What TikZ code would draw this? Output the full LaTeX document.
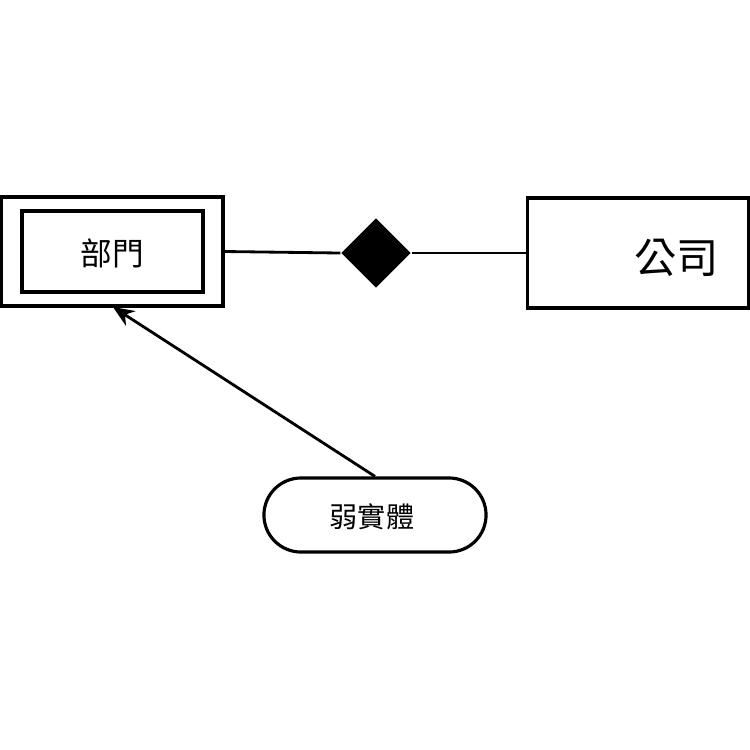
\documentclass[tikz,border=0pt]{standalone}
\usepackage{fontspec}
\newfontfamily\cjk{Noto Sans CJK TC}
\usetikzlibrary{arrows.meta}
\usetikzlibrary{shapes.geometric}

\tikzset{
  box/.style={draw, line width=0.9pt, rectangle, inner sep=0pt},
  link/.style={line width=0.8pt},
}

\begin{document}
\begin{tikzpicture}[x=0.01cm, y=-0.01cm, font=\cjk]
\useasboundingbox (0,0) rectangle (750,750);
%
\node [box, minimum width=2.22cm, minimum height=1.09cm] (dept) at (112,251.5) {};
\node [box, minimum width=1.81cm, minimum height=0.81cm] (deptin) at (112.5,251.5) {};
\node [font=\cjk\fontsize{9pt}{9pt}\selectfont] (deptlbl) at (112,253) {部門};
%
\node [box, minimum width=2.21cm, minimum height=1.10cm] (comp) at (638,253) {};
\node [font=\cjk\fontsize{12pt}{12pt}\selectfont] (complbl) at (677,258) {公司};
%
\node [diamond, fill=black, minimum width=0.70cm, minimum height=0.70cm, inner sep=0pt] (rel) at (376,253) {};
%
\node [box, rounded corners=0.37cm, minimum width=2.22cm, minimum height=0.74cm] (weak) at (375,515) {};
\node [font=\cjk\fontsize{8pt}{8pt}\selectfont] (weaklbl) at (372,517) {弱實體};
%
\draw [link] (dept.east) -- (rel.west);
\draw [link] (rel.east) -- (comp.west);
\draw [link, -{Stealth[length=6pt, width=5pt]}] (weak.north) -- (113,307);
\end{tikzpicture}
\end{document}
